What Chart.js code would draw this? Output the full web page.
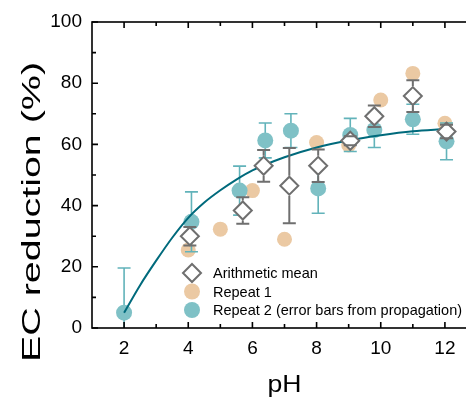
<!DOCTYPE html>
<html>
  <head>
    <script src="https://cdn.jsdelivr.net/npm/chart.js"></script>
    <style>
      html, body { margin: 0; padding: 0; overflow: hidden; background: #fff; }
      #wrap { width: 490px; height: 399px; }
    </style>
  </head>
  <body>
    <div id="wrap"><canvas id="ph-chart"></canvas></div>
    <script>
      // values
      var meanPH = [4.05, 5.7, 6.35, 7.15, 8.05, 9.05, 9.8, 11.0, 12.05];
      var meanEC = [30, 38.4, 53, 46.5, 53, 61.2, 69.2, 75.8, 64.2];
      var meanErr = [3, 4.3, 5.2, 12.3, 5.3, 1.5, 3.5, 5.2, 2.2];

      var rep1PH = [4.0, 5.0, 6.0, 7.0, 8.0, 9.0, 10.0, 11.0, 12.0];
      var rep1EC = [25.5, 32.3, 44.9, 29.0, 60.6, 59.8, 74.5, 83.2, 66.9];

      var rep2PH = [2.0, 4.1, 5.6, 6.4, 7.2, 8.05, 9.05, 9.8, 11.0, 12.05];
      var rep2EC = [5, 34.7, 44.9, 61.3, 64.5, 45.6, 63.1, 64.7, 68.2, 61.0];
      var rep2Err = [14.6, 9.8, 8, 5.7, 5.5, 8.1, 5.4, 5.7, 4.9, 6];

      var fitPH = [2, 2.5, 3, 3.5, 4, 4.5, 5, 5.5, 6, 7, 8, 9, 10, 11, 12];
      var fitEC = [5, 14, 22, 29.5, 36, 41, 45, 48.5, 51.5, 55.8, 59, 61.3, 63, 64.3, 65];

      var xMajor = [2, 4, 6, 8, 10, 12];
      var xMinor = [3, 5, 7, 9, 11];
      var yMajor = [0, 20, 40, 60, 80, 100];
      var yMinor = [10, 30, 50, 70, 90];

      var legendLabels = ['Arithmetic mean', 'Repeat 1', 'Repeat 2 (error bars from propagation)'];

      var GRAY = '#6f6f6f';
      var TAN = '#ebc9a3';
      var TEAL = '#7fc1c6';
      var TEAL_BAR = '#62b3ba';
      var FIT = '#006a7c';

      function pts(xs, ys) {
        return xs.map(function (v, i) { return { x: v, y: ys[i] }; });
      }

      function drawBars(chart, xs, ys, errs, color, lw, gap) {
        var ctx = chart.ctx, a = chart.chartArea;
        var sx = chart.scales.x, sy = chart.scales.y;
        ctx.save();
        ctx.beginPath();
        ctx.rect(a.left, a.top, a.right - a.left, a.bottom - a.top);
        ctx.clip();
        ctx.strokeStyle = color;
        ctx.lineWidth = lw;
        xs.forEach(function (v, i) {
          var px = sx.getPixelForValue(v);
          var py = sy.getPixelForValue(ys[i]);
          var top = sy.getPixelForValue(ys[i] + errs[i]);
          var bot = sy.getPixelForValue(ys[i] - errs[i]);
          ctx.beginPath();
          if (py - top > gap) { ctx.moveTo(px, py - gap); ctx.lineTo(px, top); }
          if (bot - py > gap) { ctx.moveTo(px, py + gap); ctx.lineTo(px, bot); }
          ctx.moveTo(px - 6.5, top); ctx.lineTo(px + 6.5, top);
          ctx.moveTo(px - 6.5, bot); ctx.lineTo(px + 6.5, bot);
          ctx.stroke();
        });
        ctx.restore();
      }

      function scaledText(ctx, text, x, y, size, width) {
        ctx.font = size + 'px "Liberation Sans", Arial, sans-serif';
        var w = ctx.measureText(text).width;
        ctx.save();
        ctx.translate(x, y);
        ctx.scale(width / w, 1);
        ctx.textAlign = 'center';
        ctx.fillText(text, 0, 0);
        ctx.restore();
      }

      var extras = {
        id: 'extras',
        beforeDatasetDraw: function (chart, args) {
          if (args.index === 1) drawBars(chart, rep2PH, rep2EC, rep2Err, TEAL_BAR, 1.6, 0);
        },
        afterDatasetDraw: function (chart, args) {
          if (args.index === 0) drawBars(chart, meanPH, meanEC, meanErr, GRAY, 2, 10);
        },
        afterDraw: function (chart) {
          var ctx = chart.ctx, a = chart.chartArea;
          var sx = chart.scales.x, sy = chart.scales.y;
          ctx.save();
          ctx.strokeStyle = '#000';
          ctx.lineWidth = 1.6;
          ctx.strokeRect(a.left, a.top, a.right - a.left, a.bottom - a.top);
          ctx.beginPath();
          xMajor.concat(xMinor).forEach(function (v) {
            var px = sx.getPixelForValue(v);
            var len = xMajor.indexOf(v) >= 0 ? 6 : 4;
            ctx.moveTo(px, a.bottom); ctx.lineTo(px, a.bottom - len);
            ctx.moveTo(px, a.top); ctx.lineTo(px, a.top + len);
          });
          yMajor.concat(yMinor).forEach(function (v) {
            var py = sy.getPixelForValue(v);
            var len = yMajor.indexOf(v) >= 0 ? 6 : 4;
            ctx.moveTo(a.left, py); ctx.lineTo(a.left + len, py);
            ctx.moveTo(a.right, py); ctx.lineTo(a.right - len, py);
          });
          ctx.stroke();

          // axis titles
          ctx.fillStyle = '#000';
          ctx.textBaseline = 'alphabetic';
          scaledText(ctx, 'pH', (a.left + a.right) / 2, 392, 24, 34);
          ctx.save();
          ctx.translate(40, 212);
          ctx.rotate(-Math.PI / 2);
          scaledText(ctx, 'EC reduction (%)', 0, 0, 26, 300);
          ctx.restore();

          // legend
          var lx = 192, ly = [273, 291.5, 310];
          ctx.lineWidth = 2;
          ctx.strokeStyle = GRAY;
          ctx.fillStyle = '#fff';
          ctx.beginPath();
          ctx.moveTo(lx, ly[0] - 9); ctx.lineTo(lx + 9, ly[0]);
          ctx.lineTo(lx, ly[0] + 9); ctx.lineTo(lx - 9, ly[0]);
          ctx.closePath();
          ctx.fill(); ctx.stroke();
          ctx.fillStyle = TAN;
          ctx.beginPath(); ctx.arc(lx, ly[1], 8, 0, Math.PI * 2); ctx.fill();
          ctx.fillStyle = TEAL;
          ctx.beginPath(); ctx.arc(lx, ly[2], 8, 0, Math.PI * 2); ctx.fill();
          ctx.fillStyle = '#000';
          ctx.font = '14.5px "Liberation Sans", Arial, sans-serif';
          ctx.textAlign = 'left';
          ctx.textBaseline = 'middle';
          legendLabels.forEach(function (t, i) { ctx.fillText(t, 213, ly[i] + 1); });
          ctx.restore();
        }
      };

      var ctx = document.getElementById('ph-chart').getContext('2d');
      var phChart = new Chart(ctx, {
        type: 'scatter',
        data: {
          datasets: [{
            label: legendLabels[0],
            data: pts(meanPH, meanEC),
            pointStyle: 'rectRot',
            pointRadius: 9,
            pointBorderWidth: 2,
            pointBorderColor: GRAY,
            pointBackgroundColor: '#fff',
            order: 1
          }, {
            label: legendLabels[2],
            data: pts(rep2PH, rep2EC),
            pointRadius: 8,
            pointBorderWidth: 0,
            pointBackgroundColor: TEAL,
            order: 3
          }, {
            label: legendLabels[1],
            data: pts(rep1PH, rep1EC),
            pointRadius: 7.5,
            pointBorderWidth: 0,
            pointBackgroundColor: TAN,
            order: 4
          }, {
            label: 'fit',
            type: 'line',
            data: pts(fitPH, fitEC),
            borderColor: FIT,
            borderWidth: 2,
            pointRadius: 0,
            cubicInterpolationMode: 'monotone',
            fill: false,
            order: 2
          }]
        },
        options: {
          responsive: true,
          maintainAspectRatio: false,
          animation: false,
          layout: { padding: { left: 0, top: 22, right: 13, bottom: 0 } },
          plugins: { legend: { display: false }, tooltip: { enabled: false } },
          scales: {
            x: {
              type: 'linear',
              min: 1,
              max: 13,
              grid: { display: false, drawTicks: false },
              border: { display: false },
              afterBuildTicks: function (s) { s.ticks = xMajor.map(function (v) { return { value: v }; }); },
              afterFit: function (s) { s.height = 71; },
              ticks: { color: '#000', padding: 9, maxRotation: 0,
                font: { family: '"Liberation Sans", Arial', size: 19 } }
            },
            y: {
              min: 0,
              max: 100,
              grid: { display: false, drawTicks: false },
              border: { display: false },
              afterBuildTicks: function (s) { s.ticks = yMajor.map(function (v) { return { value: v }; }); },
              afterFit: function (s) { s.width = 92; },
              ticks: { color: '#000', padding: 10,
                font: { family: '"Liberation Sans", Arial', size: 19 } }
            }
          }
        },
        plugins: [extras]
      });
    </script>
  </body>
</html>
